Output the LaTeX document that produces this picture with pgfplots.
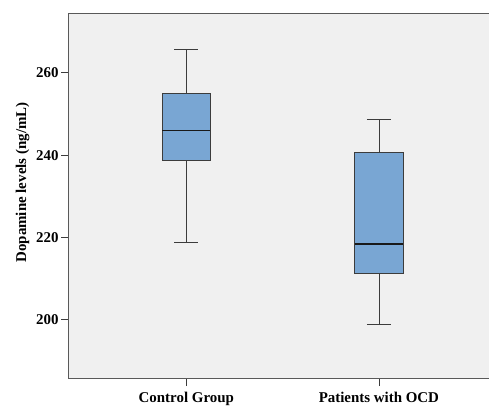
\documentclass[border=0pt]{standalone}
\usepackage{fontspec}
\setmainfont{Liberation Serif}
\usepackage{pgfplots}
\pgfplotsset{compat=1.18}
\definecolor{bgc}{RGB}{240,240,240}
\definecolor{boxc}{RGB}{121,166,211}
\definecolor{edgec}{RGB}{60,60,60}
\begin{document}
\begin{tikzpicture}
\begin{axis}[
  at={(0,0)}, anchor=south west,
  scale only axis,
  width=420.3bp, height=365bp,
  xmin=0.389, xmax=2.569,
  ymin=185.7, ymax=274.3,
  xtick pos=left, ytick pos=left,
  xtick={1,2},
  xticklabels={Control Group, Patients with OCD},
  ytick={200,220,240,260},
  tick align=outside,
  major tick length=7.5bp,
  tick style={edgec, line width=0.8bp},
  axis line style={draw=none},
  axis background/.style={fill=bgc},
  /pgf/number format/assume math mode=true,
  ticklabel style={font=\fontsize{15}{17}\selectfont\bfseries},
  yticklabel style={xshift=1bp},
  xticklabel style={yshift=-3bp},
  ylabel={Dopamine levels (ng/mL)},
  every axis y label/.append style={at={(ticklabel cs:0.538)}},
  ylabel style={font=\fontsize{15}{17}\selectfont\bfseries},
  clip=false,
]
\draw[black!65, line width=1bp] (rel axis cs:1,0) -- (rel axis cs:0,0) -- (rel axis cs:0,1) -- (rel axis cs:1,1);
% Control group: whiskers 218.9 / 265.8, quartiles 238.7 / 255.0, median 246.0
\addplot[edgec, line width=0.8bp] coordinates {(1,238.7) (1,218.9)};
\addplot[edgec, line width=0.8bp] coordinates {(1,255.0) (1,265.8)};
\addplot[edgec, line width=0.8bp] coordinates {(0.937,218.9) (1.063,218.9)};
\addplot[edgec, line width=0.8bp] coordinates {(0.937,265.8) (1.063,265.8)};
\addplot[fill=boxc, draw=edgec, line width=0.8bp] coordinates {(0.8745,238.7) (1.1255,238.7) (1.1255,255.0) (0.8745,255.0)} -- cycle;
\addplot[black!90, line width=1.8bp] coordinates {(0.8745,246.0) (1.1255,246.0)};
% Patients with OCD: whiskers 198.9 / 248.7, quartiles 211.2 / 240.7, median 218.4
\addplot[edgec, line width=0.8bp] coordinates {(2,211.2) (2,198.9)};
\addplot[edgec, line width=0.8bp] coordinates {(2,240.7) (2,248.7)};
\addplot[edgec, line width=0.8bp] coordinates {(1.937,198.9) (2.063,198.9)};
\addplot[edgec, line width=0.8bp] coordinates {(1.937,248.7) (2.063,248.7)};
\addplot[fill=boxc, draw=edgec, line width=0.8bp] coordinates {(1.8745,211.2) (2.1255,211.2) (2.1255,240.7) (1.8745,240.7)} -- cycle;
\addplot[black!90, line width=1.8bp] coordinates {(1.8745,218.4) (2.1255,218.4)};
\end{axis}
\useasboundingbox (-68.7bp,-25bp) rectangle (420.3bp,379bp);
\end{tikzpicture}
\end{document}
